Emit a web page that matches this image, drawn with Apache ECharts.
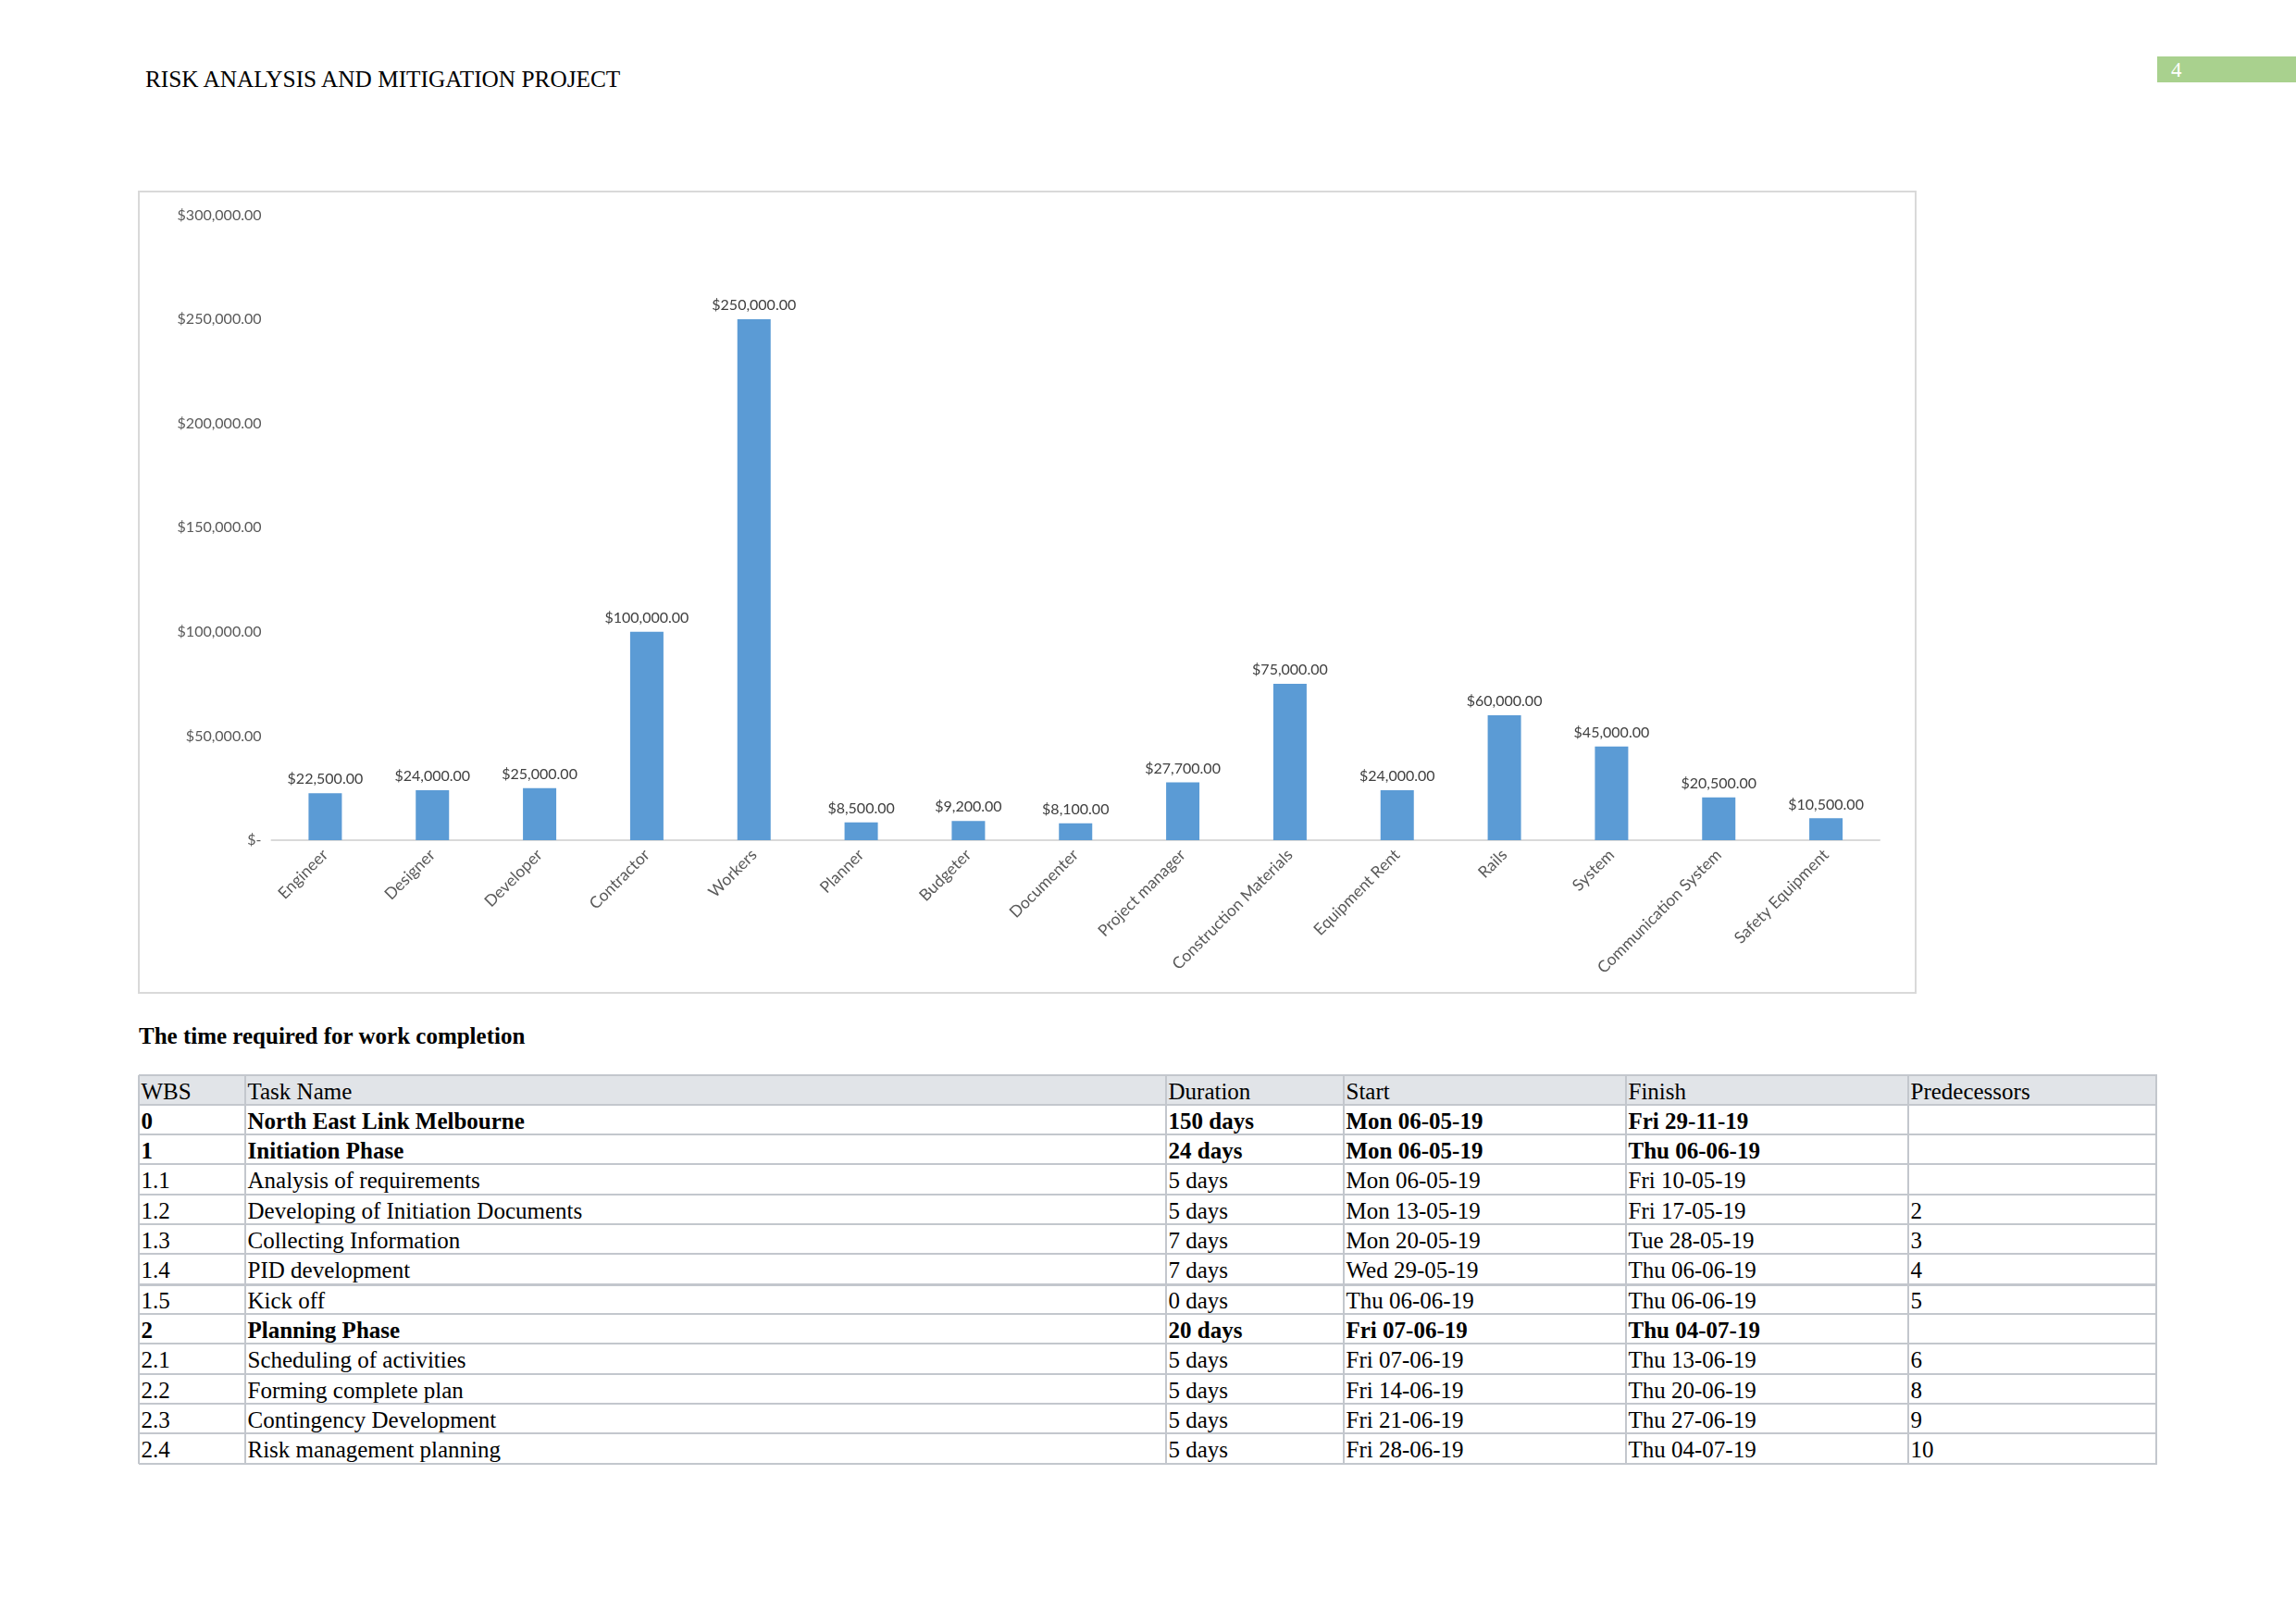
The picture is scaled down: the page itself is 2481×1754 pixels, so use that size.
<!DOCTYPE html>
<html>
<head>
<meta charset="utf-8">
<script src="https://cdn.jsdelivr.net/npm/echarts@6/dist/echarts.min.js"></script>
<style>
  html, body { margin:0; padding:0; background:#fff; }
  body { width:2481px; height:1754px; position:relative; overflow:hidden; font-family:"Liberation Serif","Times New Roman",serif; color:#000; }
  .abs { position:absolute; white-space:nowrap; }
  #chart { position:absolute; left:150px; top:207px; width:1920px; height:866px; }
  #chartBorder { position:absolute; left:149px; top:206px; width:1918px; height:864px; border:2px solid #d9d9d9; pointer-events:none; }
</style>
</head>
<body>
<div class="abs" style="left:157px; top:67px; font-size:25.3px; line-height:36px;">RISK ANALYSIS AND MITIGATION PROJECT</div>
<div class="abs" style="left:2331px; top:61px; width:150px; height:28px; background:#a9d18e;"></div>
<div class="abs" style="left:2346px; top:59px; font-size:23px; line-height:34px; color:#fff;">4</div>

<div id="chart"></div>
<div id="chartBorder"></div>

<div class="abs" style="left:150px; top:1102px; font-size:25px; line-height:36px; font-weight:bold;">The time required for work completion</div>
<div id="table"></div>

<script>
// ---- chart data ----
const categories = ['Engineer','Designer','Developer','Contractor','Workers','Planner','Budgeter','Documenter','Project manager','Construction Materials','Equipment Rent','Rails','System','Communication System','Safety Equipment'];
const costs = [22500,24000,25000,100000,250000,8500,9200,8100,27700,75000,24000,60000,45000,20500,10500];
const yTicks = { min:0, max:300000, interval:50000 };

// ---- table data ----
const tableHeader = ['WBS','Task Name','Duration','Start','Finish','Predecessors'];
const wbs = ['0','1','1.1','1.2','1.3','1.4','1.5','2','2.1','2.2','2.3','2.4'];
const taskNames = ['North East Link Melbourne','Initiation Phase','Analysis of requirements','Developing of Initiation Documents','Collecting Information','PID development','Kick off','Planning Phase','Scheduling of activities','Forming complete plan','Contingency Development','Risk management planning'];
const durations = ['150 days','24 days','5 days','5 days','7 days','7 days','0 days','20 days','5 days','5 days','5 days','5 days'];
const starts = ['Mon 06-05-19','Mon 06-05-19','Mon 06-05-19','Mon 13-05-19','Mon 20-05-19','Wed 29-05-19','Thu 06-06-19','Fri 07-06-19','Fri 07-06-19','Fri 14-06-19','Fri 21-06-19','Fri 28-06-19'];
const finishes = ['Fri 29-11-19','Thu 06-06-19','Fri 10-05-19','Fri 17-05-19','Tue 28-05-19','Thu 06-06-19','Thu 06-06-19','Thu 04-07-19','Thu 13-06-19','Thu 20-06-19','Thu 27-06-19','Thu 04-07-19'];
const predecessors = ['','','','2','3','4','5','','6','8','9','10'];
const boldRows = [0,1,7];

function money(v){
  if (v === 0) return '$-';
  const parts = v.toFixed(2).split('.');
  parts[0] = parts[0].replace(/\B(?=(\d{3})+(?!\d))/g, ',');
  return '$' + parts.join('.');
}

const chart = echarts.init(document.getElementById('chart'), null, {renderer:'canvas'});
chart.setOption({
  animation:false,
  backgroundColor:'#fff',
  textStyle:{ fontFamily:'Lato' },
  grid:{ left:143.5, right:39, top:25.4, bottom:165, containLabel:false },
  xAxis:{
    type:'category', data:categories,
    axisLine:{ show:true, lineStyle:{ color:'#d9d9d9', width:2 } },
    axisTick:{ show:false },
    axisLabel:{ interval:0, rotate:45, margin:13, fontSize:17.5, color:'#595959', fontFamily:'Lato' },
    splitLine:{ show:false }
  },
  yAxis:{
    type:'value', min:yTicks.min, max:yTicks.max, interval:yTicks.interval,
    axisLine:{ show:false }, axisTick:{ show:false },
    splitLine:{ show:false },
    axisLabel:{ margin:11, fontSize:16, color:'#595959', fontFamily:'Lato', formatter:money }
  },
  series:[{
    type:'bar', data:costs, barWidth:36,
    itemStyle:{ color:'#5b9bd5' },
    label:{ show:true, position:'top', distance:7, fontSize:16, color:'#404040', fontFamily:'Lato', formatter:p=>money(p.value) }
  }]
});

// ---- table drawing ----
const T = document.getElementById('table');
const colX = [150, 265, 1260, 1452, 1757, 2062, 2330];
const top0 = 1161.5, rowH = 32.31;
const nRows = wbs.length + 1;
function add(style, text){
  const d = document.createElement('div');
  d.className = 'abs';
  d.style.cssText = style;
  if (text !== undefined) d.textContent = text;
  T.appendChild(d);
}
add(`left:${colX[0]}px; top:${top0}px; width:${colX[6]-colX[0]}px; height:${rowH}px; background:#e1e4e8;`);
for (let i=0;i<=nRows;i++){
  const y = top0 + i*rowH;
  const th = (i===7) ? 3 : 2;
  add(`left:${colX[0]}px; top:${y-1}px; width:${colX[6]-colX[0]+1}px; height:${th}px; background:#c3c7cd;`);
}
for (let c=0;c<colX.length;c++){
  add(`left:${colX[c]-1}px; top:${top0}px; width:2px; height:${nRows*rowH}px; background:#c3c7cd;`);
}
const rows = [tableHeader];
for (let i=0;i<wbs.length;i++) rows.push([wbs[i], taskNames[i], durations[i], starts[i], finishes[i], predecessors[i]]);
rows.forEach((r, i) => {
  const bold = i>0 && boldRows.includes(i-1);
  r.forEach((txt, c) => {
    if (!txt) return;
    add(`left:${colX[c]+2.5}px; top:${top0 + i*rowH + 2}px; height:${rowH}px; font-size:25px; line-height:${rowH}px; font-weight:${bold?'bold':'normal'};`, txt);
  });
});
</script>
</body>
</html>
